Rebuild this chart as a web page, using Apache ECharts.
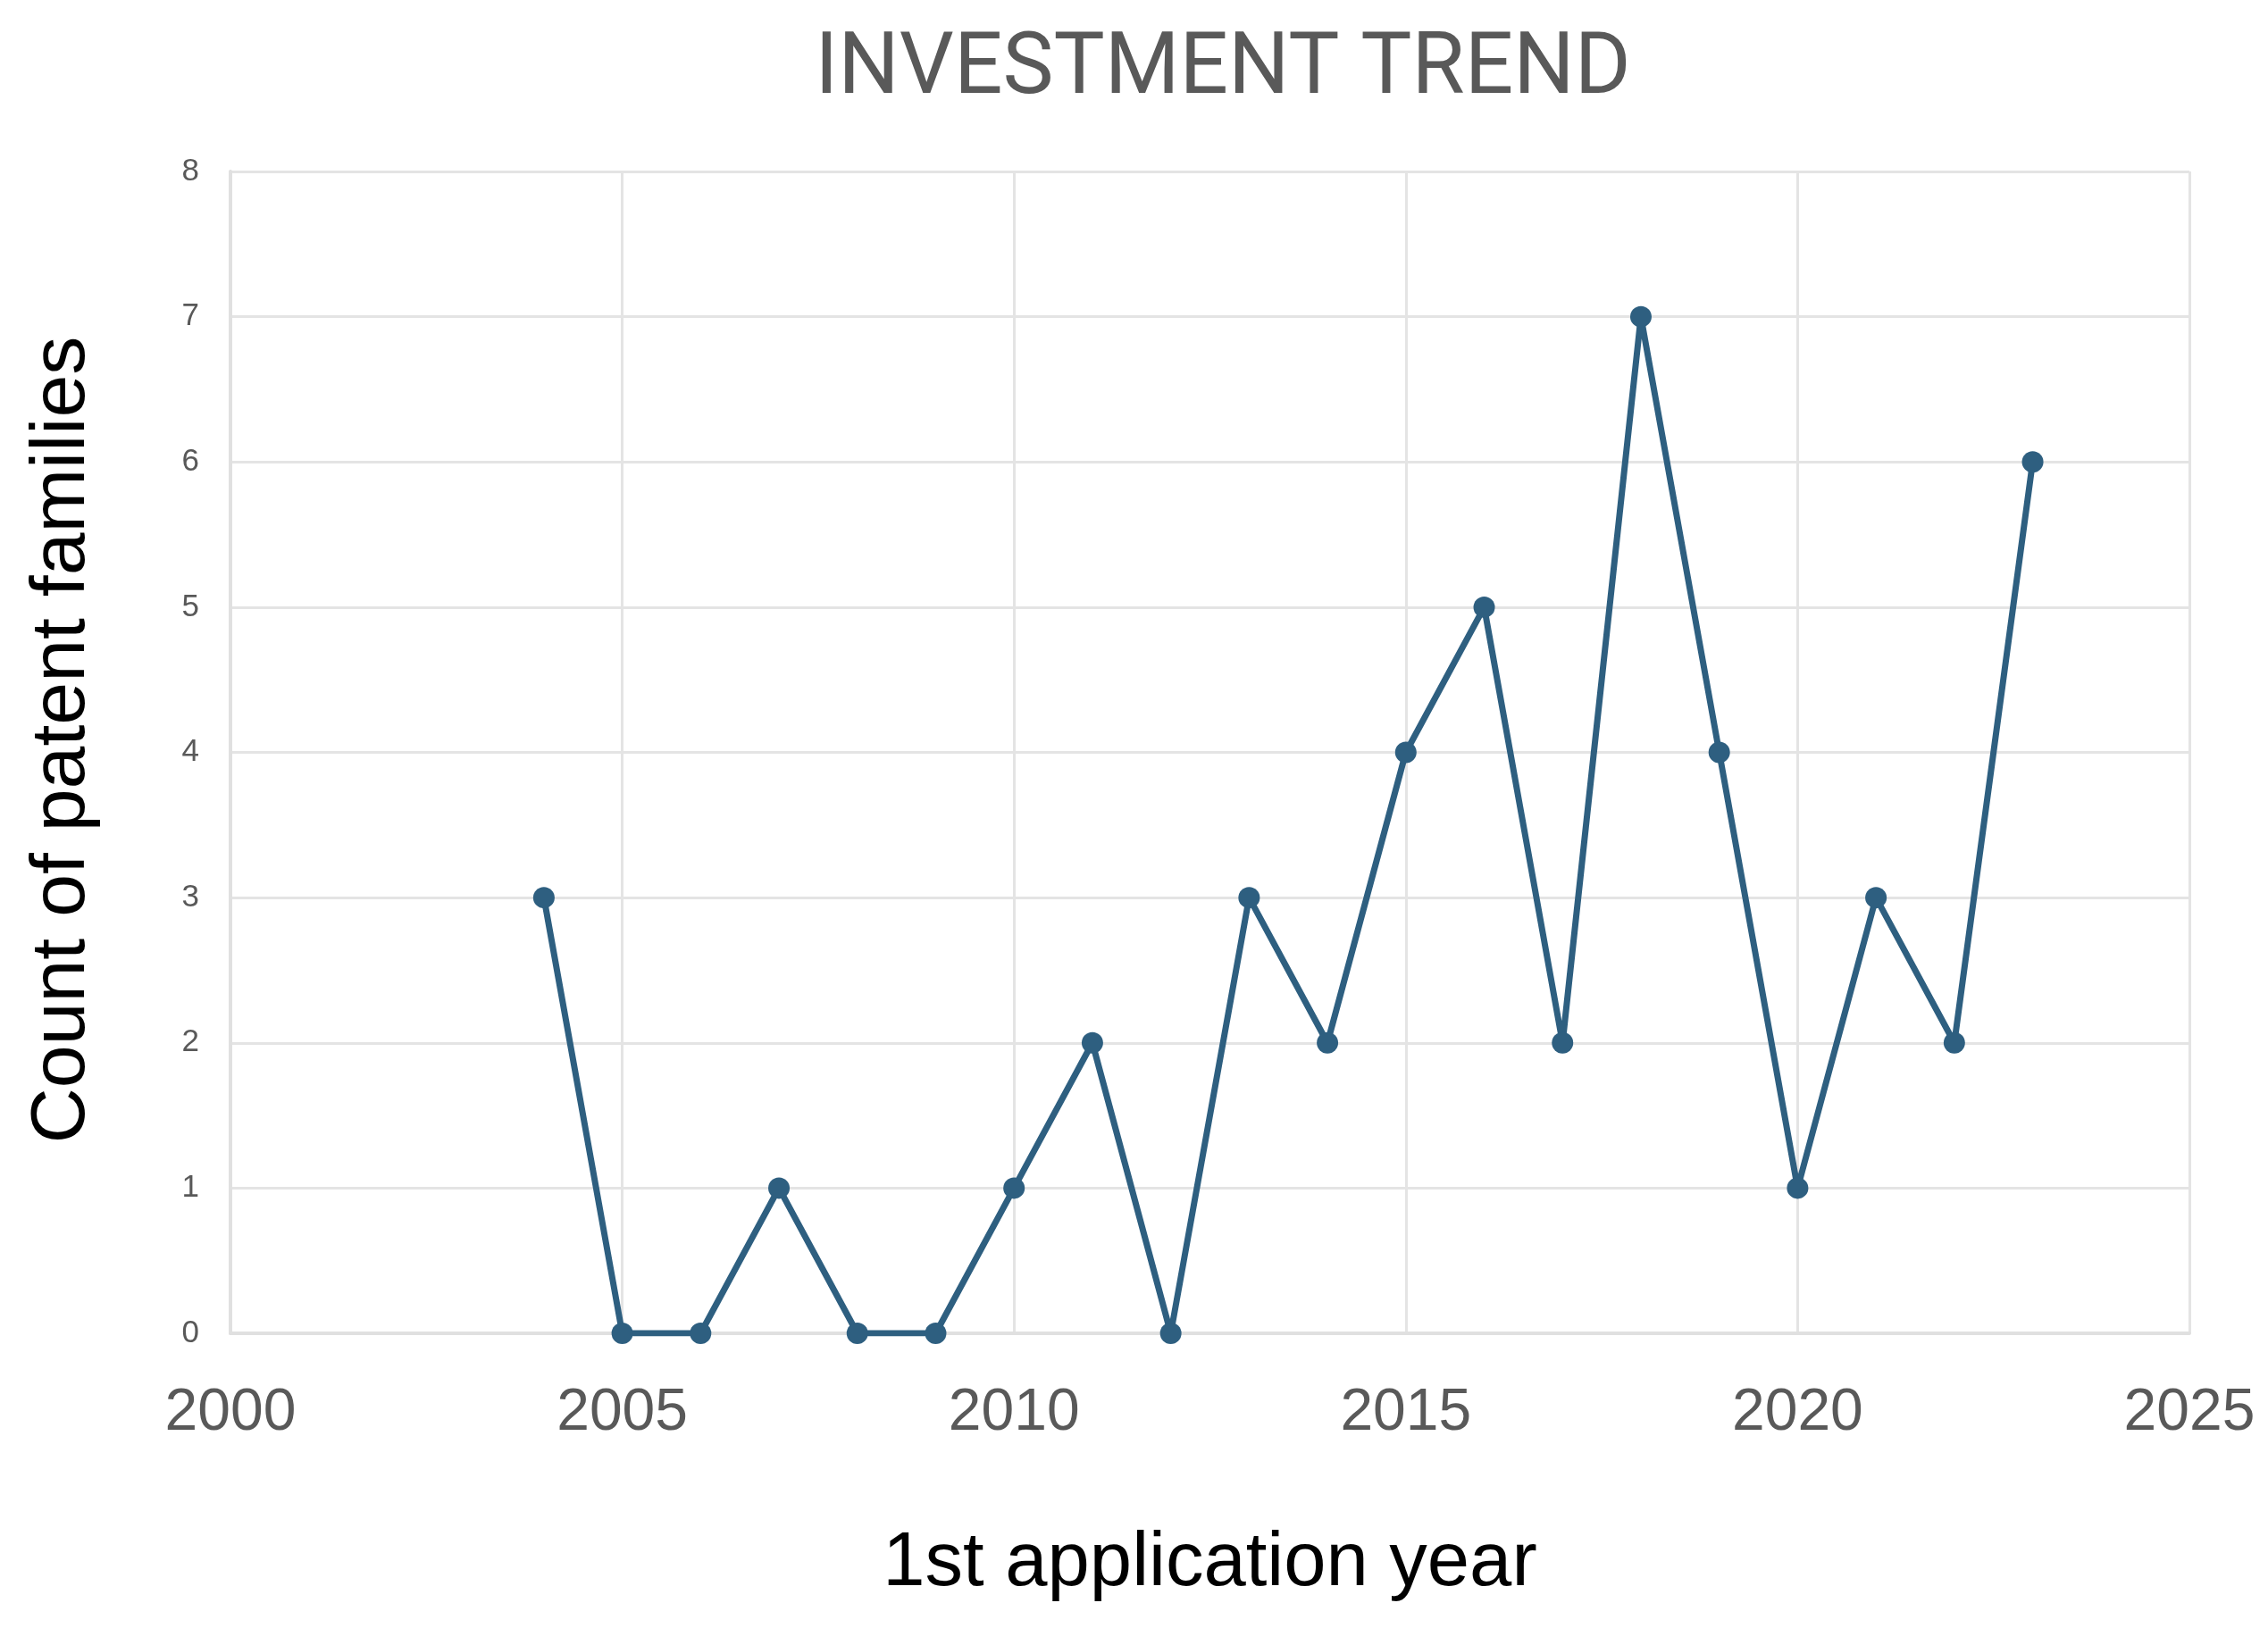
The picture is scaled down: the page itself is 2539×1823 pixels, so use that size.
<!DOCTYPE html>
<html>
<head>
<meta charset="utf-8">
<script src="https://cdn.jsdelivr.net/npm/echarts@6/dist/echarts.min.js"></script>
<style>
html,body{margin:0;padding:0;background:#fff;}
#chart{width:2539px;height:1823px;}
</style>
</head>
<body>
<div id="chart"></div>
<script>
const years = [2004, 2005, 2006, 2007, 2008, 2009, 2010, 2011, 2012, 2013, 2014, 2015, 2016, 2017, 2018, 2019, 2020, 2021, 2022, 2023];
const counts = [3, 0, 0, 1, 0, 0, 1, 2, 0, 3, 2, 4, 5, 2, 7, 4, 1, 3, 2, 6];
const titleText = 'INVESTMENT TREND';
const xName = '1st application year';
const yName = 'Count of patent families';

const chart = echarts.init(document.getElementById('chart'));
chart.setOption({
  backgroundColor: '#ffffff',
  animation: false,
  title: {
    text: titleText,
    left: 1364, textAlign: 'center',
    top: 27,
    textStyle: { fontFamily: 'Roboto', fontSize: 96, fontWeight: 'normal', color: '#595959' }
  },
  grid: { left: 258, right: 88, top: 192, bottom: 330, containLabel: false },
  xAxis: {
    type: 'value', min: 2000, max: 2025, interval: 5,
    name: xName, nameLocation: 'middle', nameGap: 216,
    nameTextStyle: { fontFamily: 'Liberation Sans', fontSize: 85, color: '#000000' },
    axisLine: { show: true, lineStyle: { color: '#e0e0e0', width: 4 } },
    axisTick: { show: false },
    axisLabel: { fontFamily: 'Liberation Sans', fontSize: 66, color: '#595959', margin: 57, formatter: v => String(v) },
    splitLine: { show: true, lineStyle: { color: '#e4e4e4', width: 3 } }
  },
  yAxis: {
    type: 'value', min: 0, max: 8, interval: 1,
    name: yName, nameLocation: 'middle', nameGap: 145, nameRotate: 90,
    nameTextStyle: { fontFamily: 'Liberation Sans', fontSize: 86, color: '#000000', padding: [0, 0, 0, 28] },
    axisLine: { show: true, lineStyle: { color: '#e0e0e0', width: 4 } },
    axisTick: { show: false },
    axisLabel: { fontFamily: 'Liberation Sans', fontSize: 35, color: '#595959', margin: 35 },
    splitLine: { show: true, lineStyle: { color: '#e4e4e4', width: 3 } }
  },
  series: [{
    type: 'line',
    data: years.map((y, i) => [y, counts[i]]),
    symbol: 'circle', symbolSize: 24,
    itemStyle: { color: '#2E5F80' },
    lineStyle: { color: '#2E5F80', width: 7 }
  }]
});
</script>
</body>
</html>
